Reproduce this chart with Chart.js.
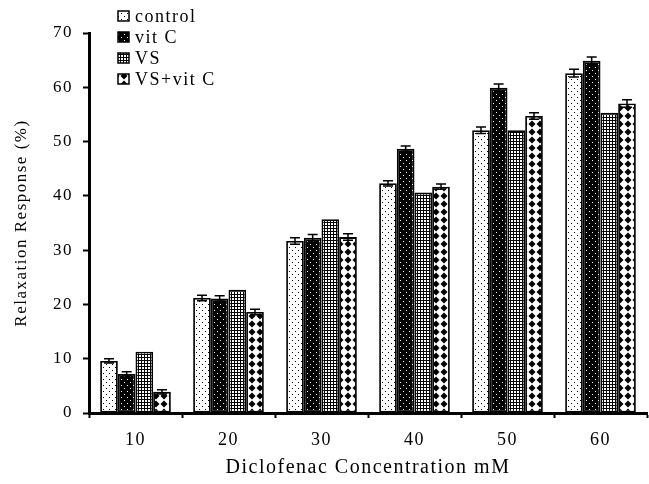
<!DOCTYPE html>
<html><head><meta charset="utf-8">
<script src="https://cdn.jsdelivr.net/npm/chart.js@4.4.1/dist/chart.umd.min.js"></script>
<style>html,body{margin:0;padding:0;background:#fff}#wrap{width:649px;height:484px}</style>
</head><body><div id="wrap"><canvas id="c" width="649" height="484"></canvas></div>
<script>
const categories = ["10","20","30","40","50","60"];
const seriesNames = ["control","vit C","VS","VS+vit C"];
const control = [9.6, 21.2, 31.7, 42.3, 52.1, 62.6];
const vitC = [7.2, 21.1, 32.3, 48.7, 59.9, 64.9];
const vs = [11.3, 22.7, 35.7, 40.6, 52.1, 55.3];
const vsVitC = [3.9, 18.6, 32.4, 41.7, 54.7, 57.0];
const errControl = [0.4, 0.5, 0.6, 0.5, 0.6, 0.7];
const errVitC = [0.4, 0.5, 0.6, 0.5, 0.7, 0.7];
const errVs = [0, 0, 0, 0, 0, 0];
const errVsVitC = [0.4, 0.5, 0.6, 0.5, 0.6, 0.7];
const yTicks = [0,10,20,30,40,50,60,70];

function mk(w,h,draw){const c=document.createElement('canvas');c.width=w;c.height=h;const g=c.getContext('2d');draw(g);return g.createPattern(c,'repeat');}
const patControl=mk(6,6,g=>{g.fillStyle='#fff';g.fillRect(0,0,6,6);g.fillStyle='#000';g.fillRect(1,1,1,1);g.fillRect(4,4,1,1);});
const patVitC=mk(6,6,g=>{g.fillStyle='#000';g.fillRect(0,0,6,6);g.fillStyle='#fff';g.fillRect(1,1,1,1);g.fillRect(4,4,1,1);});
const patVs=mk(3,3,g=>{g.fillStyle='#fff';g.fillRect(0,0,3,3);g.fillStyle='#000';g.fillRect(0,0,3,1);g.fillRect(0,0,1,3);});
const patVsVitC=mk(8,8,g=>{g.fillStyle='#fff';g.fillRect(0,0,8,8);g.fillStyle='#000';g.beginPath();g.moveTo(4,0.5);g.lineTo(7.5,4);g.lineTo(4,7.5);g.lineTo(0.5,4);g.closePath();g.fill();});
const patterns=[patControl,patVitC,patVs,patVsVitC];
const values=[control,vitC,vs,vsVitC];
const errs=[errControl,errVitC,errVs,errVsVitC];

const spacing={id:'spacing',beforeDraw(chart){chart.ctx.letterSpacing='1.5px';}};
const errorBars={id:'errorBars',afterDatasetsDraw(chart){
  const g=chart.ctx, y=chart.scales.y;
  g.save();g.strokeStyle='#000';g.lineWidth=1.5;
  chart.data.datasets.forEach((ds,i)=>{
    const meta=chart.getDatasetMeta(i);
    meta.data.forEach((bar,j)=>{
      const e=errs[i][j]; if(!e) return;
      const v=ds.data[j];
      const top=y.getPixelForValue(v+e), bot=y.getPixelForValue(v-e);
      g.beginPath();g.moveTo(bar.x,top);g.lineTo(bar.x,bot);
      g.moveTo(bar.x-5,top);g.lineTo(bar.x+5,top);
      g.moveTo(bar.x-5,bot);g.lineTo(bar.x+5,bot);g.stroke();
    });
  });
  g.restore();
}};
const legendPlugin={id:'legendP',afterDraw(chart){
  const g=chart.ctx;g.save();
  g.letterSpacing='1.5px';
  g.font='18px "Liberation Serif"';g.textBaseline='middle';g.fillStyle='#000';
  seriesNames.forEach((n,i)=>{
    const x=118,yy=16+i*21;
    g.fillStyle=patterns[i];g.fillRect(x,yy-5,11,10);
    g.strokeStyle='#000';g.lineWidth=1.5;g.strokeRect(x,yy-5,11,10);
    g.fillStyle='#000';g.fillText(n,x+17,yy+1);
  });
  g.restore();
}};

new Chart(document.getElementById('c'),{
  type:'bar',
  data:{labels:categories,datasets:seriesNames.map((n,i)=>({label:n,data:values[i],backgroundColor:patterns[i],borderColor:'#000',borderWidth:1.8,borderSkipped:false}))},
  options:{
    responsive:false,animation:false,
    layout:{padding:{top:33,right:2,left:7,bottom:0}},
    datasets:{bar:{categoryPercentage:0.76,barPercentage:1}},
    plugins:{legend:{display:false},tooltip:{enabled:false}},
    scales:{
      x:{offset:true,
        grid:{display:true,drawOnChartArea:false,offset:true,tickLength:5,color:'#000',tickWidth:2},
        border:{display:true,color:'#000',width:3},
        ticks:{color:'#000',font:{family:'Liberation Serif',size:18},padding:11},
        title:{display:true,text:'Diclofenac Concentration mM',color:'#000',font:{family:'Liberation Serif',size:20},padding:{top:5}},
        afterFit(s){s.height=71;}
      },
      y:{min:0,max:70,
        afterBuildTicks(s){s.ticks=yTicks.map(v=>({value:v}));},
        grid:{display:true,drawOnChartArea:false,tickLength:6,color:'#000',tickWidth:2},
        border:{display:true,color:'#000',width:3},
        ticks:{color:'#000',font:{family:'Liberation Serif',size:17},padding:10},
        title:{display:true,text:'Relaxation Response (%)',color:'#000',font:{family:'Liberation Serif',size:17},padding:{bottom:6}},
        afterFit(s){s.width=82;}
      }
    }
  },
  plugins:[spacing,errorBars,legendPlugin]
});
</script></body></html>
